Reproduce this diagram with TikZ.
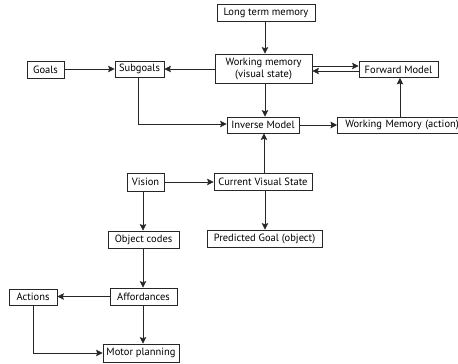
\documentclass[tikz,border=0pt]{standalone}
\usepackage{fontspec}
\setmainfont{PT Sans}
\usetikzlibrary{arrows.meta}
\tikzset{
  box/.style={draw=black!85, line width=0.7pt, inner sep=0pt, minimum height=17pt,
    font=\fontsize{10.5}{12}\selectfont, align=center},
  link/.style={draw=black!85, line width=0.7pt, -{Stealth[length=6.5pt,width=6.5pt,inset=1pt]}}
}
\begin{document}
\begin{tikzpicture}[x=1pt,y=-1pt]
\useasboundingbox (0,0) rectangle (458,364);
\clip (0,0) rectangle (458,364);
% boxes
\node[box, minimum width=98pt] (ltm) at (266,13) {Long term memory};
\node[box, minimum width=97pt, minimum height=29pt] (wm) at (263.5,68.5) {Working memory\\(visual state)};
\node[box, minimum width=79pt, minimum height=16pt] (fm) at (398.5,69.5) {Forward Model};
\node[box, minimum width=49pt, minimum height=16pt] (sub) at (139.5,69) {Subgoals};
\node[box, minimum width=37pt] (goals) at (45.5,69.5) {Goals};
\node[box, minimum width=72pt, minimum height=16pt] (inv) at (263,125) {Inverse Model};
\node[box, minimum height=16pt, anchor=west, inner xsep=8pt, text width=132pt, align=left] (wma) at (337,125) {Working Memory (action)};
\node[box, minimum width=37pt, minimum height=18pt] (vis) at (145.5,182) {Vision};
\node[box, minimum width=98pt] (cvs) at (263,181.5) {Current Visual State};
\node[box, minimum width=115pt] (pg) at (264.5,238.5) {Predicted Goal (object)};
\node[box, minimum width=71pt] (oc) at (143.5,239.5) {Object codes};
\node[box, minimum width=67pt] (aff) at (143.5,296.5) {Affordances};
\node[box, minimum width=48pt, minimum height=16pt] (act) at (33,297) {Actions};
\node[box, minimum width=76pt, minimum height=18pt] (mp) at (141,353) {Motor planning};
% connectors
\draw[link] (ltm.south -| 265,0) -- (wm.north -| 265,0);
\draw[link] (wm.west |- 0,69) -- (sub.east |- 0,69);
\draw[link] (goals.east |- 0,69) -- (sub.west |- 0,69);
\draw[link] (wm.east |- 0,66) -- (fm.west |- 0,66);
\draw[link] (fm.west |- 0,71) -- (wm.east |- 0,71);
\draw[link] (wm.south -| 265,0) -- (inv.north -| 265,0);
\draw[link] (sub.south -| 138,0) |- (inv.west |- 0,124);
\draw[link] (inv.east) -- (wma.west);
\draw[link] (wma.north -| 400,0) -- (fm.south -| 400,0);
\draw[link] (cvs.north -| 264,0) -- (inv.south -| 264,0);
\draw[link] (vis.east) -- (cvs.west |- vis.east);
\draw[link] (cvs.south -| 265,0) -- (pg.north -| 265,0);
\draw[link] (vis.south -| 143,0) -- (oc.north -| 143,0);
\draw[link] (oc.south -| 143,0) -- (aff.north -| 143,0);
\draw[link] (aff.west) -- (act.east |- aff.west);
\draw[link] (aff.south -| 143,0) -- (mp.north -| 143,0);
\draw[link] (act.south -| 33,0) |- (mp.west);
\end{tikzpicture}
\end{document}
